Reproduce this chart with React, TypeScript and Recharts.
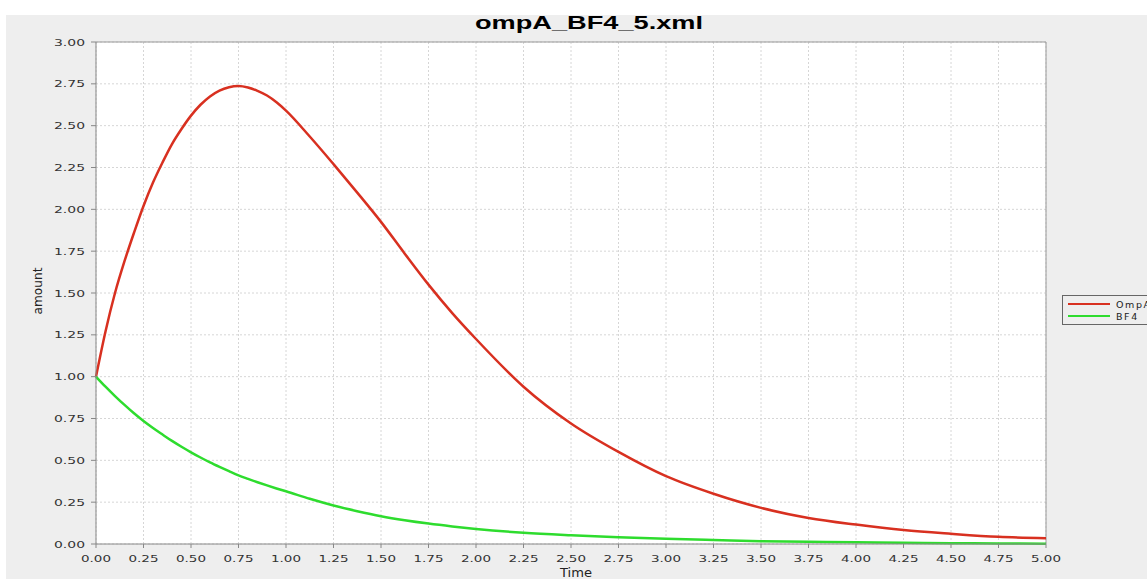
import React from 'react';
import {
  LineChart,
  Line,
  XAxis,
  YAxis,
  CartesianGrid,
  ReferenceLine,
} from 'recharts';

// values
const times = [
  0, 0.05, 0.1, 0.15, 0.2, 0.25, 0.3, 0.35, 0.4, 0.45, 0.5, 0.55, 0.6, 0.65, 0.7, 0.75,
  0.8, 0.85, 0.9, 0.95, 1.0, 1.125, 1.25, 1.375, 1.5, 1.625, 1.75, 1.875, 2.0, 2.25, 2.5,
  2.75, 3.0, 3.25, 3.5, 3.75, 4.0, 4.25, 4.5, 4.75, 5.0,
];
const ompA = [
  1.0, 1.27, 1.5, 1.69, 1.86, 2.02, 2.16, 2.28, 2.39, 2.48, 2.56, 2.625, 2.675, 2.71, 2.73,
  2.737, 2.728, 2.708, 2.68, 2.64, 2.59, 2.435, 2.27, 2.1, 1.925, 1.735, 1.55, 1.38, 1.225,
  0.94, 0.72, 0.55, 0.405, 0.3, 0.216, 0.156, 0.116, 0.083, 0.061, 0.043, 0.035,
];
const bf4 = [
  1.0, 0.94, 0.884, 0.831, 0.781, 0.735, 0.693, 0.654, 0.616, 0.581, 0.548, 0.517, 0.488,
  0.461, 0.435, 0.41, 0.389, 0.369, 0.35, 0.332, 0.315, 0.27, 0.23, 0.196, 0.166, 0.142,
  0.122, 0.105, 0.09, 0.067, 0.052, 0.04, 0.031, 0.024, 0.017, 0.013, 0.01, 0.007, 0.005,
  0.003, 0.002,
];
const xTicks = [
  0, 0.25, 0.5, 0.75, 1, 1.25, 1.5, 1.75, 2, 2.25, 2.5, 2.75, 3, 3.25, 3.5, 3.75, 4, 4.25,
  4.5, 4.75, 5,
];
const yTicks = [0, 0.25, 0.5, 0.75, 1, 1.25, 1.5, 1.75, 2, 2.25, 2.5, 2.75, 3];

const series = [
  { key: 'OmpA', color: '#d83020' },
  { key: 'BF4', color: '#2edc2e' },
];

const data = times.map((t, i) => ({ time: t, OmpA: ompA[i], BF4: bf4[i] }));

const tickFont = '"DejaVu Sans", sans-serif';

const XTick = ({ x, y, payload }: any) => (
  <text
    x={x}
    y={y + 12}
    textAnchor="middle"
    fontFamily={tickFont}
    fontSize={9.5}
    fill="#333"
    textLength={30}
    lengthAdjust="spacingAndGlyphs"
  >
    {Number(payload.value).toFixed(2)}
  </text>
);

const YTick = ({ x, y, payload }: any) => (
  <text
    x={x - 4}
    y={y + 3.5}
    textAnchor="end"
    fontFamily={tickFont}
    fontSize={9.5}
    fill="#333"
    textLength={31}
    lengthAdjust="spacingAndGlyphs"
  >
    {Number(payload.value).toFixed(2)}
  </text>
);

export default function App() {
  return (
    <div
      style={{
        position: 'fixed',
        left: 0,
        top: 0,
        width: 1147,
        height: 579,
        background: '#fff',
        overflow: 'hidden',
      }}
    >
      <div
        style={{ position: 'absolute', left: 6, top: 15, right: 0, bottom: 0, background: '#eeeeee' }}
      />
      <div style={{ position: 'absolute', left: 0, top: 0 }}>
        <LineChart
          width={1147}
          height={579}
          data={data}
          margin={{ top: 42, right: 101, bottom: 0, left: 0 }}
        >
          <CartesianGrid
            fill="#ffffff"
            stroke="#d6d6d6"
            strokeDasharray="2 2"
            horizontalValues={yTicks}
            verticalValues={xTicks}
          />
          <XAxis
            dataKey="time"
            type="number"
            domain={[0, 5]}
            ticks={xTicks}
            height={35}
            stroke="#888"
            tickSize={4}
            tick={<XTick />}
            interval={0}
          />
          <YAxis
            type="number"
            domain={[0, 3]}
            ticks={yTicks}
            width={96}
            stroke="#888"
            tickSize={5}
            tick={<YTick />}
            interval={0}
          />
          <ReferenceLine y={3} stroke="#999" />
          <ReferenceLine x={5} stroke="#999" />
          {series.map((s) => (
            <Line
              key={s.key}
              type="monotone"
              dataKey={s.key}
              stroke={s.color}
              strokeWidth={2.5}
              dot={false}
              isAnimationActive={false}
            />
          ))}
          <text
            x={589}
            y={29}
            textAnchor="middle"
            fontFamily='"Liberation Sans", Arial, sans-serif'
            fontWeight="bold"
            fontSize={17.5}
            fill="#000"
            textLength={228}
            lengthAdjust="spacingAndGlyphs"
          >
            ompA_BF4_5.xml
          </text>
          <text
            x={576}
            y={577}
            textAnchor="middle"
            fontFamily={tickFont}
            fontSize={12}
            fill="#222"
            textLength={32}
            lengthAdjust="spacingAndGlyphs"
          >
            Time
          </text>
          <text
            x={42}
            y={291}
            textAnchor="middle"
            transform="rotate(-90 42 291)"
            fontFamily={tickFont}
            fontSize={13}
            fill="#222"
            textLength={47}
            lengthAdjust="spacingAndGlyphs"
          >
            amount
          </text>
        </LineChart>
      </div>
      <div
        style={{
          position: 'absolute',
          left: 1062,
          top: 295,
          width: 100,
          border: '1px solid #666',
          padding: '2px 0 2px 5px',
          fontFamily: tickFont,
          fontSize: 9.5,
          letterSpacing: 1.6,
          color: '#222',
        }}
      >
        {series.map((s) => (
          <div key={s.key} style={{ display: 'flex', alignItems: 'center', height: 12 }}>
            <span
              style={{
                display: 'inline-block',
                width: 42,
                height: 2,
                background: s.color,
                marginRight: 6,
              }}
            />
            <span>{s.key}</span>
          </div>
        ))}
      </div>
    </div>
  );
}
